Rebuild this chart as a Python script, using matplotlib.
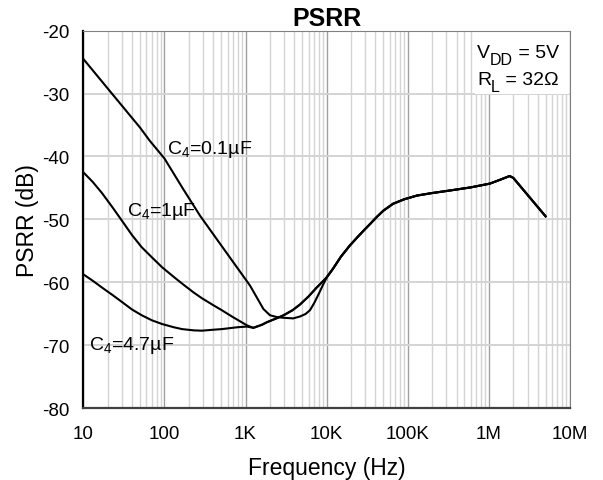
import numpy as np
import matplotlib
matplotlib.use("Agg")
import matplotlib.pyplot as plt
from matplotlib.ticker import LogLocator, FixedLocator, NullFormatter
from matplotlib.patches import Rectangle

plt.rcParams['font.family'] = ['Liberation Sans', 'DejaVu Sans']
plt.rcParams['mathtext.fontset'] = 'custom'
plt.rcParams['mathtext.rm'] = 'Liberation Sans'
plt.rcParams['mathtext.it'] = 'Liberation Sans'
plt.rcParams['mathtext.bf'] = 'Liberation Sans:bold'
plt.rcParams['mathtext.default'] = 'regular'
plt.rcParams['axes.unicode_minus'] = False

# C4 = 0.1uF, low-frequency part
c01_freq = [10, 20, 50, 66, 100, 171, 275, 441, 708, 1137, 1660, 2000, 2450, 2920, 3870,
            4690, 5500, 6230, 7000, 8000, 9000]
c01_db = [-24.5, -29.2, -35.4, -37.5, -40.3, -45.2, -49.4, -53.1, -56.8, -60.5, -64.2, -65.2,
          -65.5, -65.6, -65.7, -65.4, -65.0, -64.4, -63.3, -61.8, -60.4]

# C4 = 1uF
c1_freq = [10, 13, 17, 23, 30, 40, 52.5, 70, 94, 130, 170, 230, 290, 400, 510, 700, 1040,
           1250, 1600, 1840, 2400, 2950, 3800, 4690, 6000, 7540, 8700]
c1_db = [-42.5, -44.0, -45.8, -48.1, -50.2, -52.5, -54.4, -56.0, -57.6, -59.1, -60.3, -61.6,
         -62.5, -63.6, -64.4, -65.5, -66.8, -67.2, -66.7, -66.3, -65.7, -65.2, -64.4, -63.5,
         -62.2, -60.8, -60.0]

# C4 = 4.7uF
c47_freq = [10, 13, 17, 23, 30, 40, 52.5, 70, 94, 130, 165, 230, 290, 400, 510, 800, 1040,
            1250, 1600, 1840, 2400, 2950, 3800, 4690, 6000, 7540, 8700]
c47_db = [-58.7, -59.7, -60.8, -62.0, -63.1, -64.3, -65.2, -66.0, -66.6, -67.1, -67.4, -67.6,
          -67.65, -67.5, -67.4, -67.1, -67.0, -67.2, -66.7, -66.3, -65.7, -65.2, -64.4, -63.5,
          -62.2, -60.8, -60.0]

# shared high-frequency part (all three curves overlap)
tail_freq = [10000, 12000, 15000, 19400, 24000, 28400, 35000, 41500, 50000, 66000, 90000,
             130000, 200000, 330000, 600000, 1030000, 1370000, 1800000, 2000000, 5000000]
tail_db = [-59.2, -57.8, -55.9, -54.1, -52.8, -51.8, -50.6, -49.6, -48.6, -47.5, -46.8,
           -46.2, -45.8, -45.4, -44.9, -44.3, -43.7, -43.1, -43.4, -49.5]

x_ticks = [10, 100, 1e3, 1e4, 1e5, 1e6, 1e7]
x_ticklabels = ['10', '100', '1K', '10K', '100K', '1M', '10M']
y_ticks = [-80, -70, -60, -50, -40, -30, -20]

labels = [r'C$_4$=0.1µF', r'C$_4$=1µF', r'C$_4$=4.7µF']
label_pos = [(108, -38.8), (34.3, -48.6), (11.9, -69.8)]

fig = plt.figure(figsize=(6.03, 4.81), dpi=100)
ax = fig.add_axes([0.1381, 0.1487, 0.8072, 0.7858])

for f, d in [(c01_freq, c01_db), (c1_freq, c1_db), (c47_freq, c47_db)]:
    ax.plot(f + tail_freq, d + tail_db, color='black', lw=1.5, zorder=3,
            solid_joinstyle='round')

ax.set_xscale('log')
ax.set_xlim(10, 1e7)
ax.set_ylim(-80, -20)
ax.xaxis.set_major_locator(FixedLocator(x_ticks))
ax.set_xticklabels(x_ticklabels)
ax.xaxis.set_minor_locator(LogLocator(base=10, subs=np.arange(2, 10)))
ax.xaxis.set_minor_formatter(NullFormatter())
ax.set_yticks(y_ticks)

ax.grid(which='major', axis='x', color='#a0a0a0', lw=1.0)
ax.grid(which='minor', axis='x', color='#d4d4d4', lw=1.0)
ax.grid(which='major', axis='y', color='#d4d4d4', lw=1.4)
ax.set_axisbelow(True)

ax.tick_params(which='both', length=0)
ax.tick_params(axis='y', labelsize=13.5, pad=10)
ax.tick_params(axis='x', labelsize=13.5, pad=12)

ax.spines['left'].set_color('black')
ax.spines['left'].set_linewidth(1.6)
ax.spines['bottom'].set_color('#404040')
ax.spines['bottom'].set_linewidth(1.6)
for s in ['top', 'right']:
    ax.spines[s].set_color('#808080')
    ax.spines[s].set_linewidth(0.8)

ax.set_xlabel('Frequency (Hz)', fontsize=16.5, labelpad=10)
ax.set_ylabel('PSRR (dB)', fontsize=16.5, labelpad=2)
ax.set_title('PSRR', fontsize=18, fontweight='bold', pad=4)

for txt, (lx, ly) in zip(labels, label_pos):
    ax.text(lx, ly, txt, fontsize=14, va='center', ha='left', zorder=4)

ax.add_patch(Rectangle((0.805, 0.832), 0.193, 0.166, transform=ax.transAxes,
                       facecolor='white', edgecolor='none', zorder=2))


def sub_text(x, y, main, sub, rest):
    t1 = ax.text(x, y, main, transform=ax.transAxes, fontsize=14, va='bottom',
                 ha='left', zorder=4)
    t2 = ax.annotate(sub, xy=(1, 0), xycoords=t1, xytext=(0, -4),
                     textcoords='offset points', fontsize=11.5, va='bottom', ha='left',
                     zorder=4)
    ax.annotate(rest, xy=(1, 0), xycoords=(t2, t1), fontsize=14, va='bottom',
                ha='left', zorder=4)


sub_text(0.809, 0.918, 'V', 'DD', ' = 5V')
sub_text(0.809, 0.847, 'R', 'L', ' = 32Ω')

fig.savefig('out.png', dpi=100)
